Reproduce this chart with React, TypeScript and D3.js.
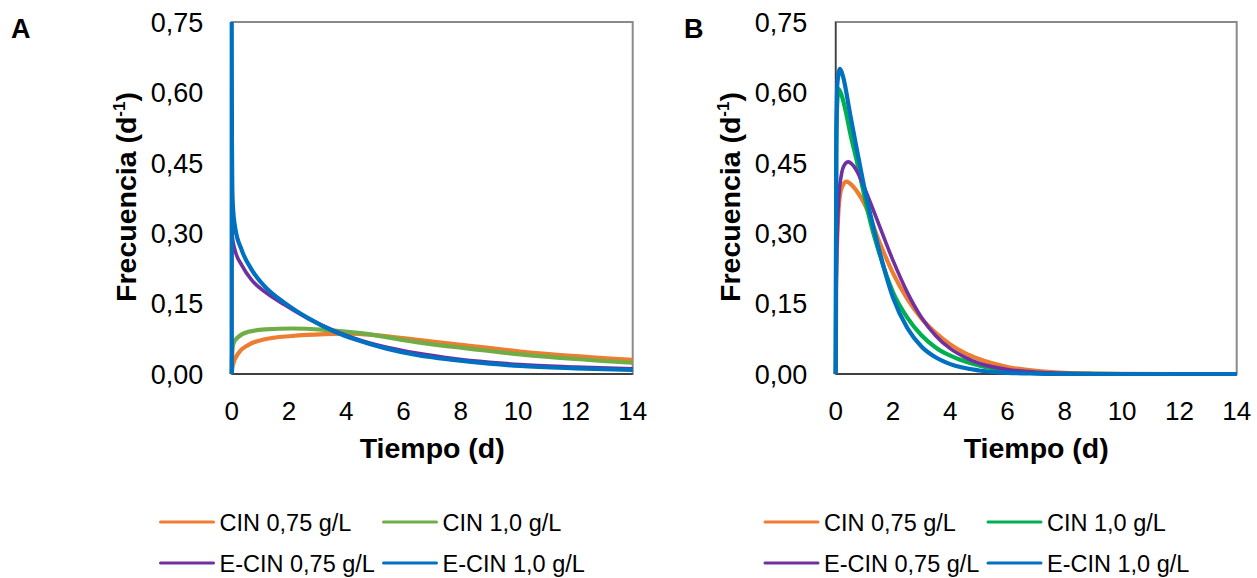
import React from "react";
import * as d3 from "d3";

type Pt = [number, number];

const xTicks = [0, 2, 4, 6, 8, 10, 12, 14];
const yTicks = [0, 0.15, 0.3, 0.45, 0.6, 0.75];
const seriesNames = ["CIN 0,75 g/L", "CIN 1,0 g/L", "E-CIN 0,75 g/L", "E-CIN 1,0 g/L"];
const colorsA = ["#ED7D31", "#70AD47", "#7030A0", "#0070C0"];
const colorsB = ["#ED7D31", "#00B050", "#7030A0", "#0070C0"];

// Panel A
const cin075A: Pt[] = [[0, 0], [0.02, 0.012], [0.06, 0.023], [0.23, 0.044], [0.58, 0.062], [1.16, 0.074], [2.1, 0.081], [3.26, 0.085], [4.07, 0.086], [5, 0.083], [6.57, 0.072], [8, 0.062], [10.07, 0.048], [12, 0.038], [14, 0.03]];
const cin10A: Pt[] = [[0, 0], [0.01, 0.035], [0.06, 0.065], [0.23, 0.079], [0.58, 0.09], [1.16, 0.095], [2.1, 0.097], [3.26, 0.094], [4.5, 0.087], [6.57, 0.067], [8, 0.056], [10.07, 0.042], [12, 0.032], [14, 0.024]];
const ecin075A: Pt[] = [[0, 0], [0.002, 0.36], [0.02, 0.293], [0.115, 0.264], [0.35, 0.232], [0.7, 0.2], [1.16, 0.175], [1.86, 0.147], [2.67, 0.118], [3.6, 0.092], [4.3, 0.076], [5.41, 0.057], [6.5, 0.044], [7.74, 0.033], [9, 0.025], [10.07, 0.02], [12, 0.015], [14, 0.011]];
const ecin10A: Pt[] = [[0, 0], [0.001, 0.76], [0.008, 0.5], [0.02, 0.4], [0.05, 0.35], [0.115, 0.314], [0.35, 0.264], [0.7, 0.222], [1.16, 0.186], [1.86, 0.151], [2.67, 0.119], [3.6, 0.09], [4.3, 0.074], [5.41, 0.054], [6.5, 0.04], [7.74, 0.03], [9, 0.022], [10.07, 0.017], [12, 0.012], [14, 0.0085]];

// Panel B
const cin075B: Pt[] = [[0, 0], [0.02, 0.2], [0.1, 0.35], [0.2, 0.395], [0.38, 0.41], [0.6, 0.4], [0.8, 0.384], [1.0, 0.363], [1.5, 0.285], [2.0, 0.215], [2.5, 0.16], [3.0, 0.118], [3.5, 0.087], [4.0, 0.063], [4.5, 0.045], [5.0, 0.032], [6.0, 0.015], [7, 0.0065], [8, 0.0026], [9, 0.001], [10, 0.0003], [12, 0], [14, 0]];
const cin10B: Pt[] = [[0, 0], [0.02, 0.45], [0.05, 0.57], [0.1, 0.607], [0.2, 0.595], [0.35, 0.56], [0.5, 0.515], [0.75, 0.45], [1.0, 0.38], [1.25, 0.315], [1.5, 0.262], [2.0, 0.174], [2.5, 0.12], [3.0, 0.082], [3.5, 0.056], [4.0, 0.039], [4.5, 0.027], [5.0, 0.018], [6.0, 0.007], [7, 0.0025], [8, 0.0008], [10, 0], [14, 0]];
const ecin075B: Pt[] = [[0, 0], [0.02, 0.2], [0.1, 0.37], [0.2, 0.425], [0.3, 0.445], [0.44, 0.452], [0.6, 0.445], [0.8, 0.425], [1.0, 0.397], [1.5, 0.32], [2.0, 0.242], [2.5, 0.174], [3.0, 0.12], [3.5, 0.081], [4.0, 0.054], [4.5, 0.036], [5.0, 0.023], [6.0, 0.0095], [7, 0.0037], [8, 0.0014], [9, 0.0004], [10, 0], [14, 0]];
const ecin10B: Pt[] = [[0, 0], [0.02, 0.5], [0.06, 0.62], [0.15, 0.65], [0.25, 0.635], [0.5, 0.555], [0.75, 0.475], [1.0, 0.397], [1.25, 0.33], [1.5, 0.268], [2.0, 0.163], [2.5, 0.098], [3.0, 0.058], [3.5, 0.035], [4.0, 0.021], [5.0, 0.0075], [6.0, 0.0025], [7, 0.0008], [8, 0], [14, 0]];

const seriesA = [cin075A, cin10A, ecin075A, ecin10A];
const seriesB = [cin075B, cin10B, ecin075B, ecin10B];

const FONT = "'Liberation Sans', Arial, Helvetica, sans-serif";
const fmt = (v: number) => d3.format(".2f")(v).replace(".", ",");

function Panel({ x0, letter, letterX, series, colors, legendX, id }: any) {
  const top = 22;
  const bottom = 374;
  const width = 401;
  const x = d3.scaleLinear().domain([0, 14]).range([x0, x0 + width]);
  const y = d3.scaleLinear().domain([0, 0.75]).range([bottom, top]);
  const line = d3
    .line<Pt>()
    .x((d) => x(d[0]))
    .y((d) => y(d[1]))
    .curve(d3.curveMonotoneX);
  const cx = x0 + width / 2;
  const cy = (top + bottom) / 2;
  const legendCols = [legendX, legendX + 223];
  const legendRows = [522, 563];
  return (
    <g>
      <defs>
        <clipPath id={id}>
          <rect x={x0 - 3} y={top} width={width + 6} height={bottom - top + 3} />
        </clipPath>
      </defs>
      <text x={letterX} y={38} fontFamily={FONT} fontWeight="bold" fontSize={27} fill="#000">
        {letter}
      </text>
      <rect x={x0} y={top} width={width} height={bottom - top} fill="none" stroke="#8a8a8a" strokeWidth={2} />
      <line x1={x0} x2={x0} y1={top} y2={bottom} stroke="#404040" strokeWidth={1.5} />
      <line x1={x0} x2={x0 + width} y1={bottom} y2={bottom} stroke="#404040" strokeWidth={2} />
      {yTicks.map((t) => (
        <text key={"y" + t} x={x0 - 28.5} y={y(t)} dy="0.36em" textAnchor="end" fontFamily={FONT} fontSize={27} fill="#000">
          {fmt(t)}
        </text>
      ))}
      {xTicks.map((t) => (
        <text key={"x" + t} x={x(t)} y={420} textAnchor="middle" fontFamily={FONT} fontSize={26} fill="#000">
          {t}
        </text>
      ))}
      <text x={cx} y={458} textAnchor="middle" fontFamily={FONT} fontWeight="bold" fontSize={28.5} fill="#000">
        Tiempo (d)
      </text>
      <text
        transform={`translate(${x0 - 96},${cy - 1}) rotate(-90)`}
        textAnchor="middle"
        fontFamily={FONT}
        fontWeight="bold"
        fontSize={28.5}
        fill="#000"
      >
        Frecuencia (d
        <tspan dy={-11} fontSize={17}>-1</tspan>
        <tspan dy={11}>)</tspan>
      </text>
      <g clipPath={`url(#${id})`}>
        {series.map((s: Pt[], i: number) => (
          <path key={i} d={line(s) || ""} fill="none" stroke={colors[i]} strokeWidth={i === 2 ? 3.6 : 4.2} strokeLinejoin="round" />
        ))}
      </g>
      {seriesNames.map((n, i) => {
        const lx = legendCols[i % 2];
        const ly = legendRows[Math.floor(i / 2)];
        return (
          <g key={n}>
            <line x1={lx} x2={lx + 53} y1={ly} y2={ly} stroke={colors[i]} strokeWidth={3} strokeLinecap="round" />
            <text x={lx + 59} y={ly + 8.5} fontFamily={FONT} fontSize={23.5} fill="#000">
              {n}
            </text>
          </g>
        );
      })}
    </g>
  );
}

export default function App() {
  return (
    <svg width={1257} height={578} style={{ position: "absolute", left: 0, top: 0, background: "#fff" }}>
      <rect width={1257} height={578} fill="#fff" />
      <Panel x0={231.7} letter="A" letterX={11} series={seriesA} colors={colorsA} legendX={160.5} id="clipA" />
      <Panel x0={835.7} letter="B" letterX={684} series={seriesB} colors={colorsB} legendX={765} id="clipB" />
    </svg>
  );
}
